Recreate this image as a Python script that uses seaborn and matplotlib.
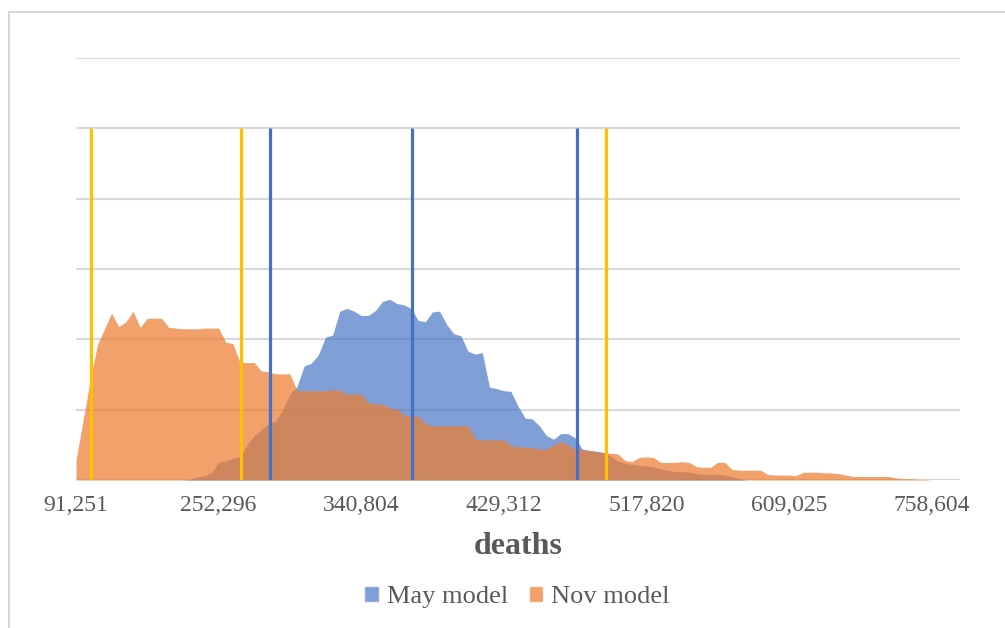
import numpy as np
import pandas as pd
import matplotlib
matplotlib.use("Agg")
import matplotlib.pyplot as plt
import seaborn as sns
from matplotlib.patches import Patch
from matplotlib.lines import Line2D

# ---------------- data ----------------
tick_labels = ["91,251", "252,296", "340,804", "429,312", "517,820", "609,025", "758,604"]
tick_every = 20

may_model = [
    0, 0, 0, 0, 0, 0, 0, 0, 0, 0, 0, 0, 0, 0, 0, 0,
    0.01, 0.04, 0.06, 0.10, 0.25, 0.27, 0.31, 0.33, 0.50, 0.63,
    0.72, 0.80, 0.84, 1.00, 1.22, 1.33, 1.62, 1.66, 1.78, 2.03,
    2.06, 2.40, 2.44, 2.40, 2.34, 2.34, 2.41, 2.54, 2.57, 2.51,
    2.49, 2.44, 2.27, 2.25, 2.39, 2.40, 2.21, 2.08, 2.05, 1.83,
    1.79, 1.81, 1.32, 1.30, 1.27, 1.26, 1.05, 0.88, 0.87, 0.77,
    0.63, 0.58, 0.66, 0.66, 0.60, 0.44, 0.42, 0.41, 0.39, 0.34,
    0.27, 0.24, 0.22, 0.21, 0.20, 0.19, 0.16, 0.14, 0.12, 0.12,
    0.11, 0.09, 0.08, 0.08, 0.08, 0.07, 0.05, 0.02,
    0, 0, 0, 0, 0, 0, 0, 0, 0, 0, 0, 0, 0, 0, 0, 0,
    0, 0, 0, 0, 0, 0, 0, 0, 0, 0, 0, 0, 0, 0, 0,
]

nov_model = [
    0.28, 0.85, 1.42, 1.92, 2.15, 2.37, 2.18, 2.25, 2.40, 2.17,
    2.30, 2.30, 2.30, 2.17, 2.16, 2.15, 2.15, 2.15, 2.16, 2.16,
    2.16, 1.96, 1.94, 1.67, 1.67, 1.67, 1.55, 1.54, 1.51, 1.51,
    1.51, 1.27, 1.27, 1.27, 1.27, 1.27, 1.28, 1.28, 1.22, 1.22,
    1.22, 1.10, 1.08, 1.08, 1.02, 1.01, 0.92, 0.91, 0.91, 0.80,
    0.77, 0.77, 0.77, 0.77, 0.77, 0.77, 0.58, 0.57, 0.57, 0.57,
    0.57, 0.49, 0.47, 0.47, 0.46, 0.44, 0.44, 0.50, 0.55, 0.50,
    0.44, 0.43, 0.42, 0.40, 0.39, 0.38, 0.37, 0.28, 0.26, 0.32,
    0.33, 0.32, 0.25, 0.25, 0.25, 0.26, 0.25, 0.19, 0.18, 0.18,
    0.25, 0.25, 0.15, 0.14, 0.14, 0.14, 0.14, 0.08, 0.07, 0.07,
    0.07, 0.06, 0.11, 0.11, 0.11, 0.10, 0.10, 0.09, 0.07, 0.05,
    0.05, 0.05, 0.05, 0.05, 0.05, 0.03, 0.02, 0.02, 0.01, 0.01,
    0, 0, 0, 0, 0,
]

# marker lines (position in bin units)
may_markers = [27.2, 47.2, 70.3]
nov_markers = [2.1, 23.1, 74.3]
marker_top = 5.0

# ---------------- style ----------------
BLUE = "#4472C4"
ORANGE = "#ED7D31"
YELLOW = "#FFC000"
TEXT = "#595959"
GRID = "#D9D9D9"

sns.set_theme(style="white")
plt.rcParams["font.family"] = ["Liberation Serif", "DejaVu Serif"]

W, H = 1005, 628
fig = plt.figure(figsize=(W / 100, H / 100), dpi=100)
ax = fig.add_axes([76 / W, 1 - 480 / H, (960 - 76) / W, (480 - 58) / H])

df = pd.DataFrame({
    "bin": np.arange(len(may_model)),
    "May model": may_model,
    "Nov model": nov_model,
})
long = df.melt(id_vars="bin", var_name="model", value_name="freq")

sns.lineplot(data=long, x="bin", y="freq", hue="model",
             palette={"May model": BLUE, "Nov model": ORANGE},
             linewidth=0, legend=False, ax=ax)
ax.fill_between(df["bin"], df["May model"], color=BLUE, alpha=0.68, lw=0, zorder=2)
ax.fill_between(df["bin"], df["Nov model"], color=ORANGE, alpha=0.72, lw=0, zorder=3)

ax.vlines(nov_markers, 0, marker_top, color=YELLOW, lw=2.3, zorder=4)
ax.vlines(may_markers, 0, marker_top, color=BLUE, lw=2.3, zorder=4)

ax.set_xlim(0, len(may_model) - 1)
ax.set_ylim(0, 6)
ax.set_yticks(range(7))
ax.set_yticklabels([])
ax.yaxis.grid(True, color=GRID, lw=1.5)
ax.xaxis.grid(False)
ax.set_axisbelow(True)
for s in ax.spines.values():
    s.set_visible(False)

ax.set_xticks(np.arange(0, len(may_model), tick_every)[:len(tick_labels)])
ax.set_xticklabels(tick_labels, fontsize=17, color=TEXT)
ax.tick_params(axis="x", length=0, pad=11)
ax.tick_params(axis="y", length=0)
ax.set_xlabel("")
ax.set_ylabel("")

fig.text(518 / W, 1 - 546 / H, "deaths", ha="center", va="center",
         fontsize=23, fontweight="bold", color=TEXT)

handles = [Patch(facecolor=BLUE, alpha=0.68, label="May model"),
           Patch(facecolor=ORANGE, alpha=0.72, label="Nov model")]
leg = fig.legend(handles=handles, loc="center", bbox_to_anchor=(517 / W, 1 - 597 / H),
                 ncol=2, frameon=False, fontsize=19, handlelength=0.55, handleheight=0.55,
                 handletextpad=0.3, columnspacing=0.8)
for t in leg.get_texts():
    t.set_color(TEXT)

# outer frame (left and top edges visible)
fig.add_artist(Line2D([9 / W, 9 / W], [0, 1 - 12 / H], transform=fig.transFigure,
                      color="#D0D0D0", lw=1.2))
fig.add_artist(Line2D([9 / W, 1], [1 - 12 / H, 1 - 12 / H], transform=fig.transFigure,
                      color="#D0D0D0", lw=1.2))

fig.savefig("out.png", dpi=100, facecolor="white")
